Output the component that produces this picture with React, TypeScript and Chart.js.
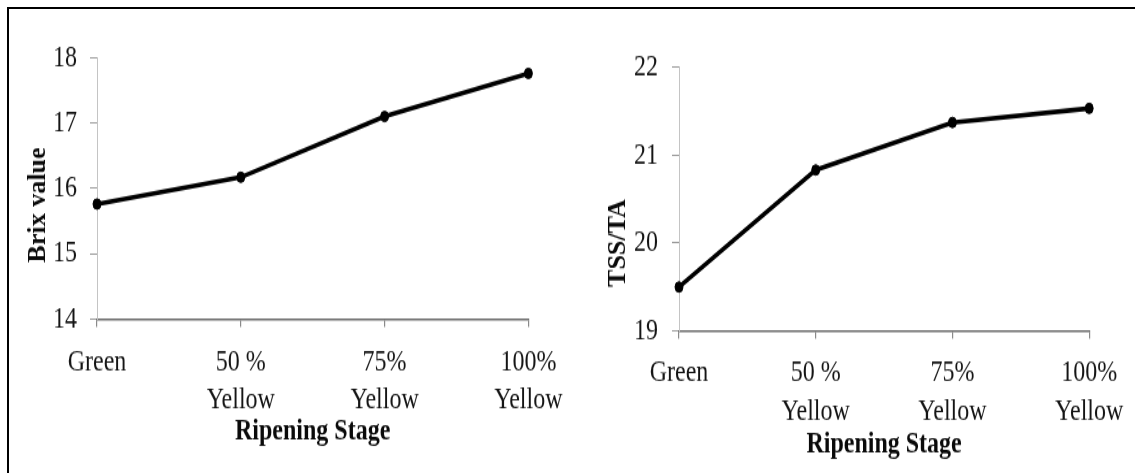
import React, { useEffect, useRef } from 'react';
import { Chart, registerables } from 'chart.js';

Chart.register(...registerables);

// ---- data ----
const stages: (string | string[])[] = ['Green', ['50 %', 'Yellow'], ['75%', 'Yellow'], ['100%', 'Yellow']];
const brixValues = [15.76, 16.17, 17.1, 17.76];
const tssTaValues = [19.5, 20.83, 21.37, 21.53];
const brixTicks = [14, 15, 16, 17, 18];
const tssTaTicks = [19, 20, 21, 22];
const xTitle = 'Ripening Stage';
const brixTitle = 'Brix value';
const tssTaTitle = 'TSS/TA';

const SERIF = '"Liberation Serif", "Times New Roman", serif';
const STRETCH = 1.3; // vertical stretch of the picture
const CANVAS_H = 364;

const yTitlePlugin = {
  id: 'yTitleText',
  afterDraw(chart: any, _args: any, opts: any) {
    const { ctx } = chart;
    ctx.save();
    ctx.translate(opts.x, opts.y);
    ctx.scale(1, opts.squeeze);
    ctx.rotate(-Math.PI / 2);
    ctx.font = `bold ${opts.size}px ${SERIF}`;
    ctx.fillStyle = opts.color;
    ctx.textAlign = 'center';
    ctx.textBaseline = 'middle';
    ctx.fillText(opts.text, 0, 0);
    ctx.restore();
  },
};

type Cfg = {
  values: number[];
  ticks: number[];
  yTitle: string;
  padLeft: number;
  padRight: number;
  padTop: number;
  yWidth: number;
  xHeight: number;
  xTickPad: number;
  xTitlePadBottom: number;
  yTickPad: number;
  yTitleX: number;
  yTitleY: number;
};

function makeChart(canvas: HTMLCanvasElement, c: Cfg) {
  return new Chart(canvas, {
    type: 'line',
    data: {
      labels: stages as any,
      datasets: [
        {
          data: c.values,
          borderColor: '#000',
          backgroundColor: '#000',
          borderWidth: 3.6,
          pointRadius: 4,
          pointBackgroundColor: '#000',
          pointBorderColor: '#000',
          pointBorderWidth: 1,
          tension: 0,
          clip: false as any,
        },
      ],
    },
    options: {
      animation: false,
      responsive: false,
      maintainAspectRatio: false,
      events: [],
      layout: { padding: { left: c.padLeft, right: c.padRight, top: c.padTop, bottom: 0 } },
      plugins: {
        legend: { display: false },
        tooltip: { enabled: false },
        yTitleText: {
          text: c.yTitle,
          x: c.yTitleX,
          y: c.yTitleY,
          size: 26,
          squeeze: 0.77,
          color: '#0a0a0a',
        },
      } as any,
      scales: {
        x: {
          type: 'category',
          offset: false,
          afterFit: (s: any) => {
            s.height = c.xHeight;
          },
          grid: {
            display: true,
            drawOnChartArea: false,
            drawTicks: true,
            tickLength: 6,
            color: '#8a8a8a',
            lineWidth: 1.2,
            offset: false,
          },
          border: { display: true, color: '#6a6a6a', width: 1.6 },
          ticks: {
            autoSkip: false,
            maxRotation: 0,
            minRotation: 0,
            padding: c.xTickPad,
            color: '#151515',
            font: { family: SERIF, size: 24, lineHeight: 1.22 },
          },
          title: {
            display: true,
            text: xTitle,
            color: '#0a0a0a',
            font: { family: SERIF, size: 24, weight: 'bold', lineHeight: 1.2 },
            padding: { top: 0, bottom: c.xTitlePadBottom },
          },
        },
        y: {
          min: c.ticks[0],
          max: c.ticks[c.ticks.length - 1],
          afterFit: (s: any) => {
            s.width = c.yWidth;
          },
          afterBuildTicks: (s: any) => {
            s.ticks = c.ticks.map((v) => ({ value: v }));
          },
          grid: {
            display: true,
            drawOnChartArea: false,
            drawTicks: true,
            tickLength: 7,
            color: '#9a9a9a',
            lineWidth: 1,
          },
          border: { display: true, color: '#c4c4c4', width: 1 },
          ticks: {
            padding: c.yTickPad,
            color: '#151515',
            font: { family: SERIF, size: 24, lineHeight: 1.2 },
          },
        },
      },
    },
    plugins: [yTitlePlugin],
  });
}

export default function App() {
  const leftRef = useRef<HTMLCanvasElement>(null);
  const rightRef = useRef<HTMLCanvasElement>(null);

  useEffect(() => {
    const left = makeChart(leftRef.current!, {
      values: brixValues,
      ticks: brixTicks,
      yTitle: brixTitle,
      padLeft: 10,
      padRight: 45,
      padTop: 57.7 / STRETCH,
      yWidth: 87,
      xHeight: CANVAS_H - 319 / STRETCH,
      xTickPad: 12.5,
      xTitlePadBottom: 18,
      yTickPad: 13,
      yTitleX: 38,
      yTitleY: 205 / STRETCH,
    });
    const right = makeChart(rightRef.current!, {
      values: tssTaValues,
      ticks: tssTaTicks,
      yTitle: tssTaTitle,
      padLeft: 10,
      padRight: 42,
      padTop: 67 / STRETCH,
      yWidth: 94,
      xHeight: CANVAS_H - 331 / STRETCH,
      xTickPad: 11.7,
      xTitlePadBottom: 8,
      yTickPad: 14,
      yTitleX: 43,
      yTitleY: 243 / STRETCH,
    });
    return () => {
      left.destroy();
      right.destroy();
    };
  }, []);

  const wrap = (x: number, w: number): React.CSSProperties => ({
    position: 'absolute',
    left: x,
    top: 0,
    width: w,
    height: CANVAS_H,
    transform: `scaleY(${STRETCH})`,
    transformOrigin: '0 0',
  });

  return (
    <div
      style={{
        position: 'fixed',
        left: 0,
        top: 0,
        width: 1135,
        height: 473,
        overflow: 'hidden',
        background: '#fff',
      }}
    >
      <div
        style={{
          position: 'absolute',
          left: 7,
          top: 7,
          width: 1300,
          height: 700,
          borderTop: '2px solid #000',
          borderLeft: '2px solid #000',
        }}
      />
      <div style={wrap(0, 575)}>
        <canvas ref={leftRef} width={575} height={CANVAS_H} style={{ width: 575, height: CANVAS_H, display: 'block' }} />
      </div>
      <div style={wrap(575, 560)}>
        <canvas ref={rightRef} width={560} height={CANVAS_H} style={{ width: 560, height: CANVAS_H, display: 'block' }} />
      </div>
    </div>
  );
}
